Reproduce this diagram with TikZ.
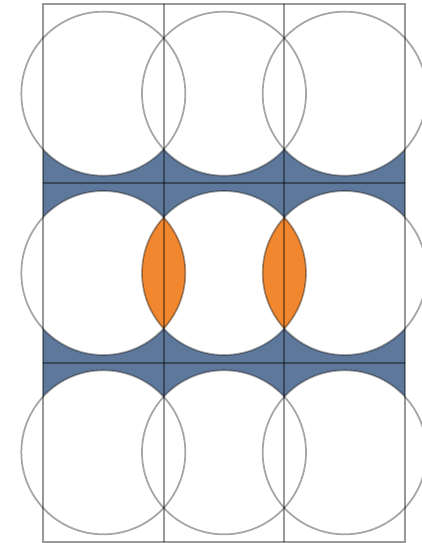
\documentclass[tikz,border=0pt]{standalone}
\usepackage{tikz}

\definecolor{bandblue}{RGB}{94,120,155}
\definecolor{lensorange}{RGB}{241,136,48}

\begin{document}
\begin{tikzpicture}[x=1cm,y=1cm]

% --- Geometry settings ---
\def\cellW{1.2067}  % width of each cell
\def\cellH{1.7933}  % height of each cell
\def\R{0.82}        % radius of each circle
\def\band{0.341}    % half height of the shaded band round a row line

\useasboundingbox (-0.43,-0.01) rectangle (3.78,5.42);

% --- Shaded bands round the two inner row lines ---
\foreach \j in {1,2} {
  \fill[bandblue] (0,{\j*\cellH-\band}) rectangle ({3*\cellW},{\j*\cellH+\band});
}

% --- Circles blank out the bands ---
\foreach \i in {0,1,2} {
  \foreach \j in {0,1,2} {
    \fill[white] ({(\i+0.5)*\cellW},{(\j+0.5)*\cellH}) circle (\R);
  }
}

% --- Lenses where the middle-row circles overlap ---
\foreach \i in {0,1} {
  \begin{scope}
    \clip ({(\i+0.5)*\cellW},{1.5*\cellH}) circle (\R);
    \fill[lensorange] ({(\i+1.5)*\cellW},{1.5*\cellH}) circle (\R);
  \end{scope}
}

% --- Circle outlines ---
\foreach \i in {0,1,2} {
  \foreach \j in {0,1,2} {
    \draw[black, draw opacity=0.35, line width=0.5pt]
      ({(\i+0.5)*\cellW},{(\j+0.5)*\cellH}) circle (\R);
  }
}

% --- Outer frame and the cell dividers ---
\draw[black, draw opacity=0.4, line width=0.5pt] (0,0) rectangle ({3*\cellW},{3*\cellH});
\foreach \i in {1,2} {
  \draw[black, draw opacity=0.4, line width=0.5pt] ({\i*\cellW},0) -- ({\i*\cellW},{3*\cellH});
  \draw[black, draw opacity=0.4, line width=0.5pt] (0,{\i*\cellH}) -- ({3*\cellW},{\i*\cellH});
}

\end{tikzpicture}
\end{document}
